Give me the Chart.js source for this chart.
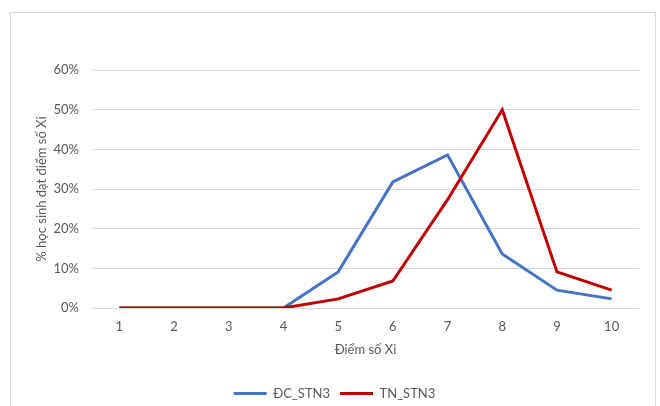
<!DOCTYPE html>
<html>
<head>
<meta charset="utf-8">
<script src="https://cdn.jsdelivr.net/npm/chart.js@4/dist/chart.umd.min.js"></script>
<style>
    body { margin: 0; background: #fff; }
    #frame {
        position: absolute; left: 10px; top: 12px; width: 644px; height: 400px;
        border: 1px solid #d9d9d9; border-bottom: none;
    }
    #wrap { position: absolute; left: 0; top: 0; width: 660px; height: 406px; }
</style>
</head>
<body>
<div id="frame"></div>
<div id="wrap"><canvas id="chart" width="660" height="406"></canvas></div>
<script>
// score categories and share of students (%) for each group
const scores = ['1', '2', '3', '4', '5', '6', '7', '8', '9', '10'];
const dcValues = [0, 0, 0, 0, 9.1, 31.8, 38.6, 13.6, 4.5, 2.3];
const tnValues = [0, 0, 0, 0, 2.3, 6.8, 27.3, 50, 9.1, 4.5];
const yTicks = [0, 10, 20, 30, 40, 50, 60];

const textColor = '#595959';
const gridColor = '#d9d9d9';
const baseFont = { family: 'Lato', size: 13 };

// order: the TN line is painted over the ĐC line
const lineDataset = (label, data, color, order) => ({
    label: label,
    data: data,
    borderColor: color,
    backgroundColor: color,
    borderWidth: 3,
    pointRadius: 0,
    tension: 0,
    fill: false,
    order: order
});

new Chart(document.getElementById('chart'), {
    type: 'line',
    data: {
        labels: scores,
        datasets: [
            lineDataset('ĐC_STN3', dcValues, '#4472c4', 1),
            lineDataset('TN_STN3', tnValues, '#c00000', 0)
        ]
    },
    options: {
        responsive: false,
        animation: false,
        // legend sits low, so its box runs a little past the bottom edge
        layout: { padding: { left: 30, right: 21, top: 70, bottom: -4 } },
        plugins: {
            tooltip: { enabled: false },
            legend: {
                position: 'bottom',
                labels: {
                    color: textColor,
                    font: baseFont,
                    usePointStyle: true,
                    pointStyle: 'line',
                    pointStyleWidth: 33,
                    padding: 10,
                    sort: (a, b) => a.datasetIndex - b.datasetIndex
                }
            }
        },
        scales: {
            x: {
                offset: true,
                grid: { display: false, drawTicks: false },
                border: { display: false },
                ticks: { color: textColor, font: baseFont, padding: 11, maxRotation: 0 },
                title: {
                    display: true,
                    text: 'Điểm số Xi',
                    color: textColor,
                    font: baseFont,
                    padding: { top: 4, bottom: 19 }
                },
                afterFit: (scale) => { scale.height = 69; }
            },
            y: {
                min: 0,
                max: 60,
                afterBuildTicks: (scale) => { scale.ticks = yTicks.map(v => ({ value: v })); },
                grid: { color: gridColor, lineWidth: 1, drawTicks: false },
                border: { display: false },
                ticks: {
                    color: textColor,
                    font: baseFont,
                    padding: 13,
                    callback: (v) => v + '%'
                },
                title: {
                    display: true,
                    text: '% học sinh đạt điểm số Xi',
                    color: textColor,
                    font: baseFont,
                    padding: 4
                },
                afterFit: (scale) => { scale.width = 62; }
            }
        }
    }
});
</script>
</body>
</html>
